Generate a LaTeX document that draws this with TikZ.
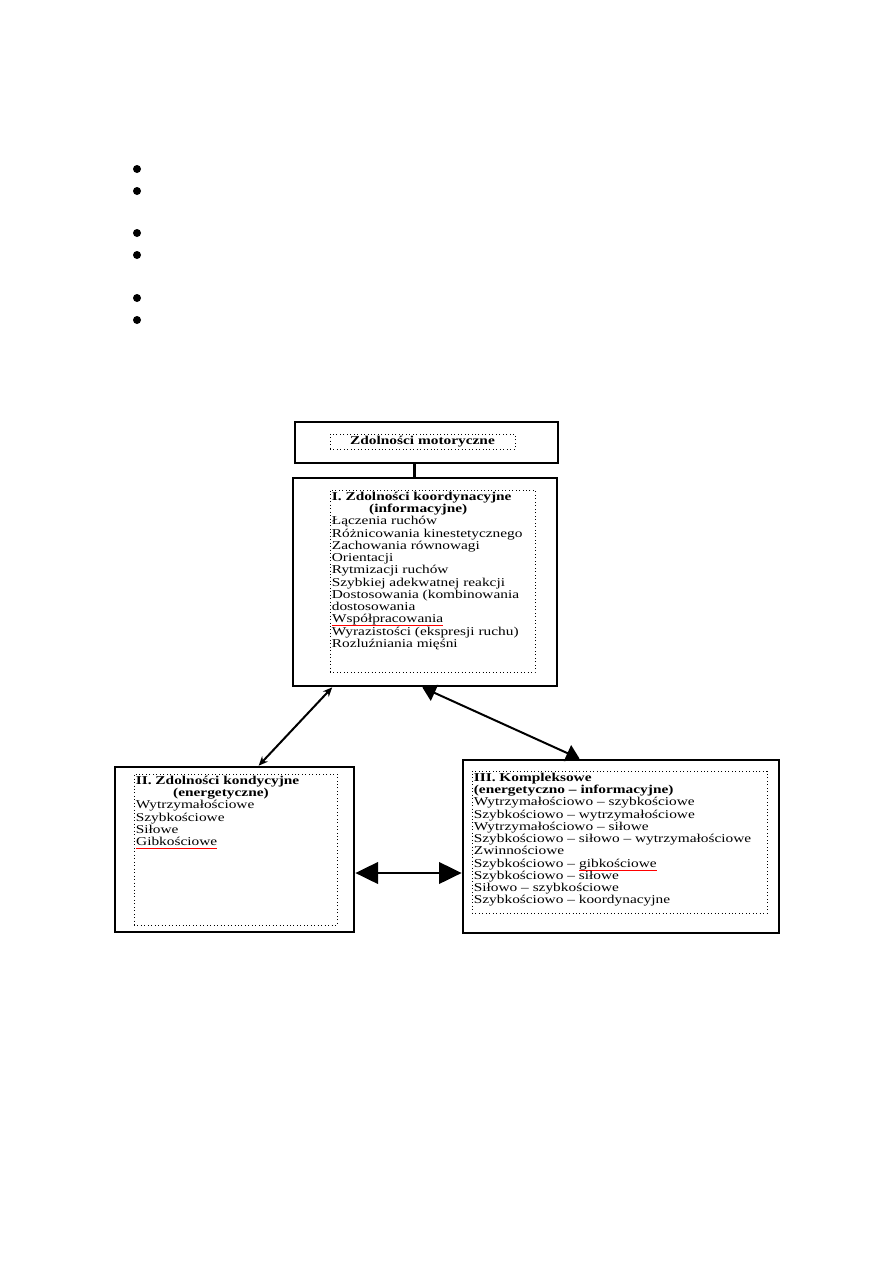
\documentclass[tikz,border=0pt]{standalone}
\usepackage{fontspec}
\setmainfont{Liberation Serif}[FakeStretch=1.28]
\usetikzlibrary{positioning,arrows.meta,fit,calc}

\newcommand{\spellmark}[1]{\tikz[baseline=(sw.base)]{\node[inner sep=0pt, outer sep=0pt] (sw) {#1};
    \draw[red, line width=0.5pt] ([yshift=-2.2pt]sw.base west) -- ([yshift=-2.2pt]sw.base east);}}

\begin{document}
\begin{tikzpicture}[
            x=0.75pt, y=-0.75pt,
            font=\fontsize{9}{9.2}\selectfont,
            outerbox/.style={draw, line width=2pt, inner sep=0pt},
            innerbox/.style={draw, dotted, line width=0.6pt, inner sep=0pt},
            listtext/.style={anchor=north west, align=left, inner sep=1.5pt},
            stem/.style={line width=2.2pt},
            thinlink/.style={{Stealth[length=7pt,width=6pt]}-{Stealth[length=7pt,width=6pt]}, line width=1.5pt},
            widelink/.style={{Triangle[length=10pt,width=13pt]}-{Triangle[length=10pt,width=13pt]}, line width=1.5pt},
            biglink/.style={{Triangle[length=17pt,width=16pt]}-{Triangle[length=17pt,width=16pt]}, line width=2.2pt}
            ]

            \useasboundingbox (0,0) rectangle (892,1263);

            % ===== Bullets (top of page) =====
            \foreach \by in {169,191,233,255,298,320}
                \fill (137,\by) circle (3pt);

            % ===== Top box: Zdolnosci motoryczne =====
            \node[outerbox, fit={(295,422)(558,463)}] (motor) {};
            \node[innerbox, fit={(330,434)(515,449)}] (motorin) {};
            \node[font=\fontsize{9}{9.2}\selectfont\bfseries] (motortext) at (motorin.center) {Zdolności motoryczne};

            % ===== I. Koordynacyjne =====
            \node[outerbox, fit={(293,478)(557,686)}] (koord) {};
            \node[innerbox, fit={(330,490)(535,672)}] (koordin) {};
            \node[listtext] (koordtext) at (koordin.north west) {
            \textbf{I. Zdolności koordynacyjne}\\
            \hspace*{28pt}\textbf{(informacyjne)}\\
            Łączenia ruchów\\
            Różnicowania kinestetycznego\\
            Zachowania równowagi\\
            Orientacji\\
            Rytmizacji ruchów\\
            Szybkiej adekwatnej reakcji\\
            Dostosowania (kombinowania\\
            dostosowania\\
            \spellmark{Współpracowania}\\
            Wyrazistości (ekspresji ruchu)\\
            Rozluźniania mięśni
            };

            % ===== II. Kondycyjne =====
            \node[outerbox, fit={(115,767)(354,932)}] (kond) {};
            \node[innerbox, fit={(134,774)(337,925)}] (kondin) {};
            \node[listtext] (kondtext) at (kondin.north west) {
            \textbf{II. Zdolności kondycyjne}\\
            \hspace*{28pt}\textbf{(energetyczne)}\\
            Wytrzymałościowe\\
            Szybkościowe\\
            Siłowe\\
            \spellmark{Gibkościowe}
            };

            % ===== III. Kompleksowe =====
            \node[outerbox, fit={(463,760)(779,933)}] (kompl) {};
            \node[innerbox, fit={(472,771)(767,913)}] (komplin) {};
            \node[listtext] (kompltext) at (komplin.north west) {
            \textbf{III. Kompleksowe}\\
            \textbf{(energetyczno -- informacyjne)}\\
            Wytrzymałościowo -- szybkościowe\\
            Szybkościowo -- wytrzymałościowe\\
            Wytrzymałościowo -- siłowe\\
            Szybkościowo -- siłowo -- wytrzymałościowe\\
            Zwinnościowe\\
            Szybkościowo -- \spellmark{gibkościowe}\\
            Szybkościowo -- siłowe\\
            Siłowo -- szybkościowe\\
            Szybkościowo -- koordynacyjne
            };

            % ===== Connectors =====
            \coordinate (stemtop) at ($(motor.south west)!0.456!(motor.south east)$);
            \draw[stem] (stemtop) -- (stemtop |- koord.north);

            \draw[thinlink] ($(koord.south west)!0.152!(koord.south east)$) -- ($(kond.north west)!0.6!(kond.north east)$);
            \draw[widelink] ($(koord.south west)!0.49!(koord.south east)$) -- ($(kompl.north west)!0.37!(kompl.north east)$);

            \coordinate (hlink) at (0,873);
            \draw[biglink] (kond.east |- hlink) -- (kompl.west |- hlink);

        \end{tikzpicture}
\end{document}
